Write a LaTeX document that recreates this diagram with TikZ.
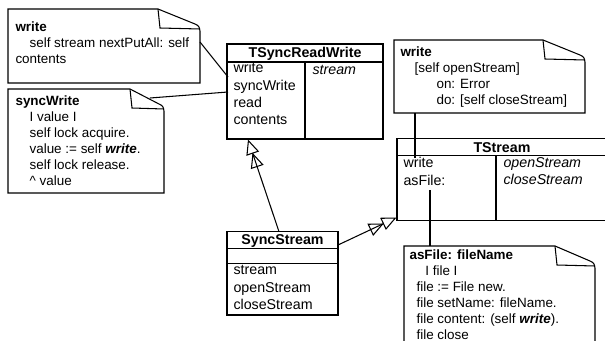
\documentclass[tikz,border=0pt]{standalone}
\usepackage{fontspec}
\setmainfont{Liberation Sans}
\usetikzlibrary{arrows.meta}

\tikzset{
  title/.style={anchor=base,inner sep=0pt,font=\fontsize{8.1}{9.9}\selectfont\bfseries},
  member/.style={anchor=north west,inner sep=0pt,align=left,font=\fontsize{8.1}{9.9}\selectfont,execute at begin node=\strut},
  notetext/.style={anchor=north west,inner sep=0pt,align=left,font=\fontsize{7.65}{9.1}\selectfont,execute at begin node=\strut},
  inherit/.style={-{Triangle[open,length=8.5pt,width=7.5pt,sep=-0.5pt]Triangle[open,length=8.5pt,width=7.5pt]}},
}

% note outline with a folded corner: x1,y1,x2,y2,fold width
\newcommand{\dognote}[5]{%
  \draw (#1,#2) -- (#3-#5,#2) -- (#3-5,#2+15) .. controls (#3-1,#2+17) .. (#3,#2+22) -- (#3,#4) -- (#1,#4) -- cycle;
  \draw (#3-#5,#2) -- (#3-#5+2,#2+19) -- (#3,#2+20);
}

\begin{document}
\begin{tikzpicture}[x=0.02cm,y=-0.02cm,line width=0.6pt]
\useasboundingbox (0,0) rectangle (605,341);
\clip (0,0) rectangle (605,341);

% notes
\dognote{8}{9}{200}{83}{42}
\node[notetext] (wnote) at (15,21) {\textbf{write}\\\hspace{8pt}self stream nextPutAll: self\\contents};

\dognote{8}{89}{164}{193}{34}
\node[notetext] (swnote) at (15,94.8) {\textbf{syncWrite}\\
  \hspace{8pt}I value I\\\hspace{8pt}self lock acquire.\\\hspace{8pt}value := self \textbf{\itshape write}.\\
  \hspace{8pt}self lock release.\\\hspace{8pt}\^{} value};

\dognote{394}{40}{585}{113}{42}
\node[notetext] (osnote) at (400,46.5) {\textbf{write}\\
  \hspace{8pt}[self openStream]\\\hspace{20.5pt}on: Error\\\hspace{20.5pt}do: [self closeStream]};

\dognote{404}{246}{595}{360}{40}
\node[notetext] (afnote) at (409,249.3) {\textbf{asFile: fileName}\\
  \hspace{9pt}I file I\\\hspace{4pt}file := File new.\\\hspace{4pt}file setName: fileName.\\
  \hspace{4pt}file content: (self \textbf{\itshape write}).\\\hspace{4pt}file close};

% TSyncReadWrite
\draw (227,44) rectangle (383,139);
\draw (227,62) -- (383,62);
\draw (305,62) -- (305,139);
\node[title] (tsrw) at (305,57.3) {TSyncReadWrite};
\node[member] (tsrwops) at (233,61.8) {write\\syncWrite\\read\\contents};
\node[member] (tsrwvars) at (312,61.8) {\itshape stream};

% TStream
\draw (397,138.5) rectangle (607,220.7);
\draw (397,155.7) -- (607,155.7);
\draw (496,155.7) -- (496,220.7);
\node[title] (ts) at (502,152.5) {TStream};
\node[member] (tsops) at (403,156.8) {write\\asFile:};
\node[member] (tsvars) at (503,156.8) {\itshape openStream\\\itshape closeStream};

% SyncStream
\draw (227,231.7) rectangle (338,315);
\draw (227,248.3) -- (338,248.3);
\draw (227,263.3) -- (338,263.3);
\node[title] (ss) at (282.5,244) {SyncStream};
\node[member] (ssops) at (233,265.1) {stream\\openStream\\closeStream};

% connector ends
\coordinate (wnoteout) at (200,42);
\coordinate (tsrwwrite) at (228,77);
\coordinate (swnoteout) at (150,98);
\coordinate (tsrwsync) at (228,92);
\coordinate (osnoteout) at (415,113);
\coordinate (tswrite) at (415,158);
\coordinate (tsasfile) at (430,190);
\coordinate (afnotein) at (430,246);
\coordinate (ssup) at (279,231.7);
\coordinate (tsrwbottom) at (248,139.5);
\coordinate (ssright) at (338,245);
\coordinate (tscorner) at (396.5,217.5);

\draw (wnoteout) -- (tsrwwrite);
\draw (swnoteout) -- (tsrwsync);
\draw (osnoteout) -- (tswrite);
\draw (tsasfile) -- (afnotein);

\draw[inherit] (ssup) -- (tsrwbottom);
\draw[inherit] (ssright) -- (tscorner);

\end{tikzpicture}
\end{document}
